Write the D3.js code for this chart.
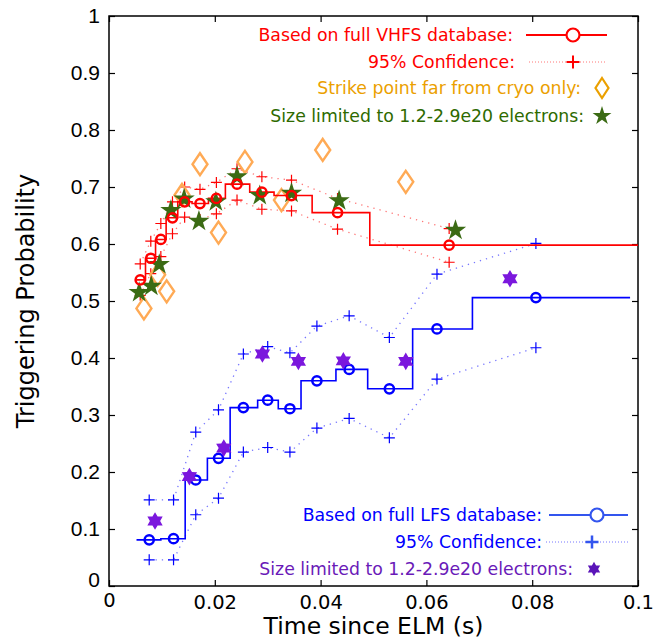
<!DOCTYPE html>
<html><head><meta charset="utf-8">
<script src="https://cdn.jsdelivr.net/npm/d3@7"></script>
<style>body{margin:0;background:#fff}</style>
</head><body>
<script>
// ---- data ----
const vhfsT     = [0.0059,0.0079,0.0098,0.0120,0.0143,0.0172,0.0203,0.0242,0.0289,0.0345,0.0432,0.0643];
const vhfsP     = [0.537,0.575,0.608,0.646,0.674,0.671,0.680,0.705,0.691,0.685,0.655,0.598];
const vhfsEdges = [0.0052,0.0069,0.0088,0.0108,0.0130,0.0157,0.0188,0.0220,0.0266,0.0312,0.0384,0.0493,0.1];
const vhfsHi    = [0.565,0.605,0.636,0.674,0.700,0.696,0.708,0.732,0.718,0.712,0.680,0.627];
const vhfsLo    = [0.510,0.548,0.578,0.618,0.647,0.643,0.653,0.677,0.661,0.658,0.626,0.568];

const strikeT = [0.0066,0.0092,0.0109,0.0138,0.0172,0.0207,0.0257,0.0326,0.0404,0.0561];
const strikeP = [0.487,0.546,0.517,0.686,0.740,0.620,0.744,0.677,0.765,0.709];

const vSizeT = [0.0057,0.0080,0.0095,0.0117,0.0142,0.0170,0.0202,0.0242,0.0285,0.0345,0.0435,0.0655];
const vSizeP = [0.515,0.526,0.564,0.659,0.679,0.640,0.674,0.718,0.685,0.689,0.676,0.624];

const lfsT     = [0.0076,0.0122,0.0164,0.0207,0.0254,0.0300,0.0342,0.0393,0.0454,0.0530,0.0620,0.0807];
const lfsP     = [0.081,0.083,0.186,0.224,0.313,0.326,0.311,0.360,0.380,0.346,0.451,0.506];
const lfsEdges = [0.0052,0.0098,0.0144,0.0186,0.0229,0.0281,0.0320,0.0363,0.0429,0.0489,0.0574,0.0687,0.0985];
const lfsHi    = [0.151,0.151,0.270,0.309,0.407,0.420,0.409,0.456,0.474,0.436,0.547,0.601];
const lfsLo    = [0.046,0.046,0.125,0.154,0.235,0.243,0.235,0.277,0.294,0.260,0.363,0.418];

const lSizeT = [0.0087,0.0152,0.0217,0.0290,0.0358,0.0443,0.0561,0.0758];
const lSizeP = [0.114,0.192,0.242,0.407,0.394,0.395,0.394,0.539];

const xTicks = [0,0.02,0.04,0.06,0.08,0.1];
const xTickLabels = ["0","0.02","0.04","0.06","0.08","0.1"];
const yTicks = [0,0.1,0.2,0.3,0.4,0.5,0.6,0.7,0.8,0.9,1];
const yTickLabels = ["0","0.1","0.2","0.3","0.4","0.5","0.6","0.7","0.8","0.9","1"];

// ---- layout ----
const W=667,H=641, L=109, R=638, T=16, B=586;
const svg=d3.select("body").append("svg").attr("width",W).attr("height",H);
const x=d3.scaleLinear().domain([0,0.1]).range([L,R]);
const y=d3.scaleLinear().domain([0,1]).range([B,T]);

const RED="#ff0000", REDL="#ff7777", BLUE="#0000ff", BLUEL="#7777ff";
const ORANGE="#ffaa55", ORANGET="#eba000", GREEN="#3b6b14", GREENT="#2e6a00", PURPLE="#7b17dd", PURPLET="#6a1ab8";

// six-pointed star symbol
const hexStar={draw(ctx,size){const r=Math.sqrt(size)/1.6, ri=r*0.58;
  for(let i=0;i<12;i++){const a=-Math.PI/2+i*Math.PI/6, rr=i%2?ri:r;
    const px=rr*Math.cos(a), py=rr*Math.sin(a); i?ctx.lineTo(px,py):ctx.moveTo(px,py);} ctx.closePath();}};
const diamondPath=(w,h)=>`M0,${-h/2}L${w/2},0L0,${h/2}L${-w/2},0Z`;
const plusPath=s=>`M${-s},0H${s}M0,${-s}V${s}`;

// frame and ticks
const g=svg.append("g");
g.append("rect").attr("x",L).attr("y",T).attr("width",R-L).attr("height",B-T).attr("fill","none").attr("stroke","#000").attr("stroke-width",1.5);
const xAxisB=d3.axisBottom(x).tickValues(xTicks).tickFormat((d,i)=>xTickLabels[i]).tickSizeInner(-6).tickSizeOuter(0).tickPadding(9);
const xAxisT=d3.axisTop(x).tickValues(xTicks).tickFormat("").tickSizeInner(-6).tickSizeOuter(0);
const yAxisL=d3.axisLeft(y).tickValues(yTicks).tickFormat((d,i)=>yTickLabels[i]).tickSizeInner(-6).tickSizeOuter(0).tickPadding(9);
const yAxisR=d3.axisRight(y).tickValues(yTicks).tickFormat("").tickSizeInner(-6).tickSizeOuter(0);
const ax1=g.append("g").attr("transform",`translate(0,${B})`).call(xAxisB);
const ax2=g.append("g").attr("transform",`translate(0,${T})`).call(xAxisT);
const ay1=g.append("g").attr("transform",`translate(${L},0)`).call(yAxisL);
const ay2=g.append("g").attr("transform",`translate(${R},0)`).call(yAxisR);
[ax1,ax2,ay1,ay2].forEach(a=>{a.select(".domain").remove();a.selectAll("line").attr("stroke","#000").attr("stroke-width",1.2);});
ax1.selectAll("text").attr("font-family","DejaVu Sans").attr("font-size",19.5).attr("fill","#000");
ay1.selectAll("text").attr("font-family","Liberation Sans").attr("font-size",21).attr("fill","#000");
ax1.selectAll(".tick").filter(d=>d===0).select("text").attr("dy","0.6em");
ay1.selectAll(".tick").filter(d=>d===0).select("text").attr("dy","0");

svg.append("text").attr("x",(L+R)/2).attr("y",634).attr("text-anchor","middle")
  .attr("font-family","DejaVu Sans").attr("font-size",23.5).text("Time since ELM (s)");
svg.append("text").attr("transform",`translate(34,${(T+B)/2}) rotate(-90)`).attr("text-anchor","middle")
  .attr("font-family","DejaVu Sans").attr("font-size",24).text("Triggering Probability");

// data layer
const stepPts=(edges,vals)=>vals.map((v,i)=>[edges[i],v]).concat([[edges[edges.length-1],vals[vals.length-1]]]);
const stepLine=d3.line().x(d=>x(d[0])).y(d=>y(d[1])).curve(d3.curveStepAfter);
const line=d3.line().x(d=>x(d[0])).y(d=>y(d[1]));
const zip=(a,b)=>a.map((v,i)=>[v,b[i]]);

function confLines(tt,hi,lo,col,pcol){
  [hi,lo].forEach(arr=>{
    svg.append("path").attr("d",line(zip(tt,arr))).attr("fill","none").attr("stroke",col).attr("stroke-width",1.3).attr("stroke-dasharray","1.3,5");
    svg.selectAll(null).data(zip(tt,arr)).enter().append("path").attr("d",plusPath(5.5))
      .attr("transform",d=>`translate(${x(d[0])},${y(d[1])})`).attr("stroke",pcol).attr("stroke-width",1.2).attr("fill","none");
  });
}
// LFS
confLines(lfsT,lfsHi,lfsLo,BLUEL,BLUE);
svg.append("path").attr("d",stepLine(stepPts(lfsEdges,lfsP))).attr("fill","none").attr("stroke",BLUE).attr("stroke-width",1.6);
svg.selectAll(null).data(zip(lfsT,lfsP)).enter().append("circle").attr("cx",d=>x(d[0])).attr("cy",d=>y(d[1])).attr("r",4.6)
  .attr("fill","none").attr("stroke",BLUE).attr("stroke-width",2.5);
svg.selectAll(null).data(zip(lSizeT,lSizeP)).enter().append("path").attr("d",d3.symbol(hexStar,200)())
  .attr("transform",d=>`translate(${x(d[0])},${y(d[1])})`).attr("fill",PURPLE);

// VHFS
confLines(vhfsT,vhfsHi,vhfsLo,REDL,RED);
svg.selectAll(null).data(zip(strikeT,strikeP)).enter().append("path").attr("d",diamondPath(15,22))
  .attr("transform",d=>`translate(${x(d[0])},${y(d[1])})`).attr("fill","none").attr("stroke",ORANGE).attr("stroke-width",2.4);
svg.append("path").attr("d",stepLine(stepPts(vhfsEdges,vhfsP))).attr("fill","none").attr("stroke",RED).attr("stroke-width",1.6);
svg.selectAll(null).data(zip(vSizeT,vSizeP)).enter().append("path").attr("d",d3.symbol(d3.symbolStar,140)())
  .attr("transform",d=>`translate(${x(d[0])},${y(d[1])})`).attr("fill",GREEN);
svg.selectAll(null).data(zip(vhfsT,vhfsP)).enter().append("circle").attr("cx",d=>x(d[0])).attr("cy",d=>y(d[1])).attr("r",4.6)
  .attr("fill","none").attr("stroke",RED).attr("stroke-width",2.5);

// legends
const lg=svg.append("g").attr("font-family","DejaVu Sans").attr("font-size",17.3);
function ltext(xr,yy,txt,col){lg.append("text").attr("x",xr).attr("y",yy).attr("dy","0.35em").attr("text-anchor","end").attr("fill",col).text(txt);}
// top legend
ltext(513,35,"Based on full VHFS database:",RED);
lg.append("line").attr("x1",526).attr("x2",607).attr("y1",35).attr("y2",35).attr("stroke",RED).attr("stroke-width",2);
lg.append("circle").attr("cx",573).attr("cy",35).attr("r",6.5).attr("fill","#fff").attr("stroke",RED).attr("stroke-width",2.2);
ltext(515,62,"95% Confidence:",RED);
lg.append("line").attr("x1",529).attr("x2",607).attr("y1",62).attr("y2",62).attr("stroke",REDL).attr("stroke-width",1).attr("stroke-dasharray","1,2");
lg.append("path").attr("d",plusPath(6.5)).attr("transform","translate(573,62)").attr("stroke",RED).attr("stroke-width",2);
ltext(581,88,"Strike point far from cryo only:",ORANGET);
lg.append("path").attr("d",diamondPath(13,20)).attr("transform","translate(602,88)").attr("fill","none").attr("stroke",ORANGET).attr("stroke-width",2.2);
ltext(584,116,"Size limited to 1.2-2.9e20 electrons:",GREENT);
lg.append("path").attr("d",d3.symbol(d3.symbolStar,110)()).attr("transform","translate(602,116)").attr("fill",GREEN);
// bottom legend
ltext(542,515,"Based on full LFS database:",BLUE);
lg.append("line").attr("x1",549).attr("x2",628).attr("y1",515).attr("y2",515).attr("stroke","#3355ee").attr("stroke-width",2);
lg.append("circle").attr("cx",597).attr("cy",515).attr("r",6.5).attr("fill","#fff").attr("stroke","#3355ee").attr("stroke-width",2.2);
ltext(542,542,"95% Confidence:",BLUE);
lg.append("line").attr("x1",546).attr("x2",628).attr("y1",542).attr("y2",542).attr("stroke",BLUEL).attr("stroke-width",1).attr("stroke-dasharray","1,2");
lg.append("path").attr("d",plusPath(6.5)).attr("transform","translate(592,542)").attr("stroke","#3355ee").attr("stroke-width",2.5);
ltext(573,569,"Size limited to 1.2-2.9e20 electrons:",PURPLET);
lg.append("path").attr("d",d3.symbol(hexStar,130)()).attr("transform","translate(594,569)").attr("fill","#5a14b8");
</script>
</body></html>
